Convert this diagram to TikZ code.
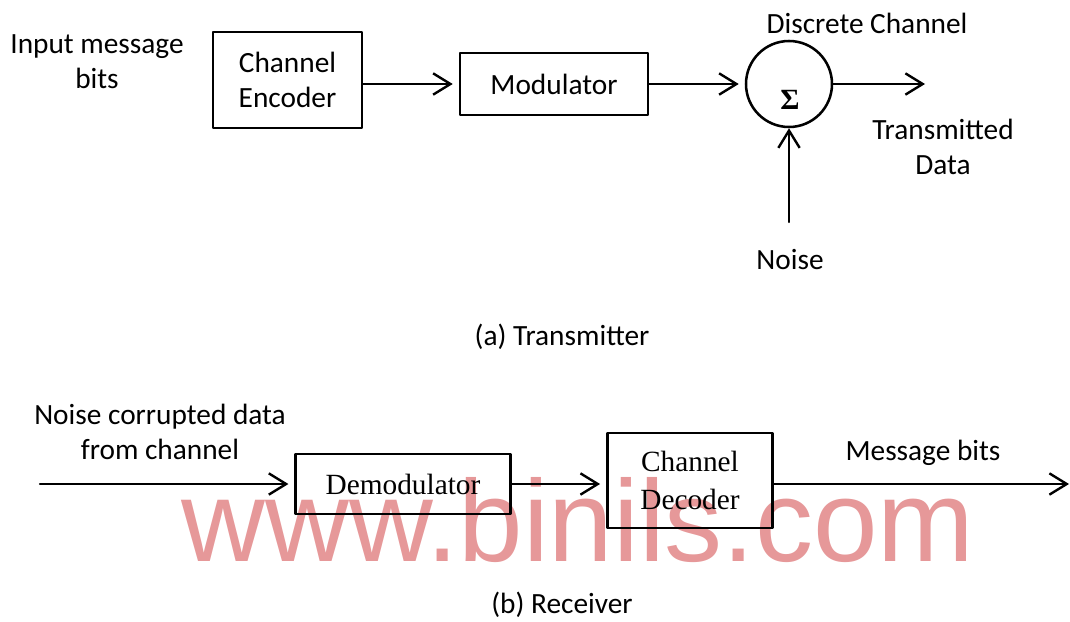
\documentclass[tikz,border=0pt]{standalone}
\usepackage{fontspec}
\setmainfont{Carlito}
\newfontfamily\serifbox{Liberation Serif}
\newfontfamily\wmfont{Liberation Sans}
\usetikzlibrary{arrows.meta}
\definecolor{wmpink}{RGB}{230,152,153}
\begin{document}
\begin{tikzpicture}[x=0.75pt, y=-0.75pt, line join=round, line cap=round,
	every node/.style={font=\fontsize{22}{26}\selectfont, align=center},
	blockbox/.style={draw, line width=1.9pt, inner sep=0pt},
	arr/.style={line width=1.8pt, -{Straight Barb[length=13pt, width=16pt, line width=1.8pt]}},
	gap/.style={shorten >=4.5pt}]
	\useasboundingbox (0,0) rectangle (1070,621);
	
	% --- Watermark ---
	\node[anchor=base, text=wmpink, font=\wmfont\fontsize{87}{87}\selectfont] (WM) at (578,561) {www.binils.com};
	
	% --- (a) Transmitter ---
	\node (Inp) at (97,62) {Input message\\bits};
	\node[blockbox, minimum width=111.75pt, minimum height=72pt] (Enc) at (287.5,80) {Channel\\Encoder};
	\node[blockbox, minimum width=141pt, minimum height=46.5pt] (Mod) at (554,84) {Modulator};
	\node[blockbox, circle, minimum size=64.5pt] (Sum) at (789,84) {};
	\node[font=\serifbox\bfseries\fontsize{22}{22}\selectfont] (Sig) at (790,100) {Σ};
	\node (DC) at (867,23) {Discrete Channel};
	\node (TD) at (943,147) {Transmitted\\Data};
	\node (Noise) at (790,260) {Noise};
	\coordinate (NzIn) at (789,222);
	\coordinate (TxOut) at (925,84);
	\node (Tx) at (562,337) {(a) Transmitter};
	
	\draw[arr, gap] (Enc.east |- Mod) -- (Mod);
	\draw[arr, gap] (Mod) -- (Sum);
	\draw[arr] (Sum) -- (TxOut);
	\draw[arr] (NzIn) -- (Sum);
	
	% --- (b) Receiver ---
	\node (NCD) at (160,432) {Noise corrupted data\\from channel};
	\coordinate (RxIn) at (40,484);
	\node[blockbox, minimum width=161pt, minimum height=45pt, font=\serifbox\fontsize{22}{29}\selectfont] (Demod) at (403,484) {Demodulator};
	\node[blockbox, minimum width=124pt, minimum height=71pt, font=\serifbox\fontsize{22}{29}\selectfont] (Dec) at (690,480.5) {Channel\\Decoder};
	\coordinate (RxOut) at (1069,484);
	\node (MB) at (923,453) {Message bits};
	\node (Rx) at (562,605) {(b) Receiver};
	
	\draw[arr, gap] (RxIn) -- (Demod);
	\draw[arr, gap] (Demod) -- (Demod -| Dec.west);
	\draw[arr] (Dec.east |- Demod) -- (RxOut);
	
\end{tikzpicture}
\end{document}
